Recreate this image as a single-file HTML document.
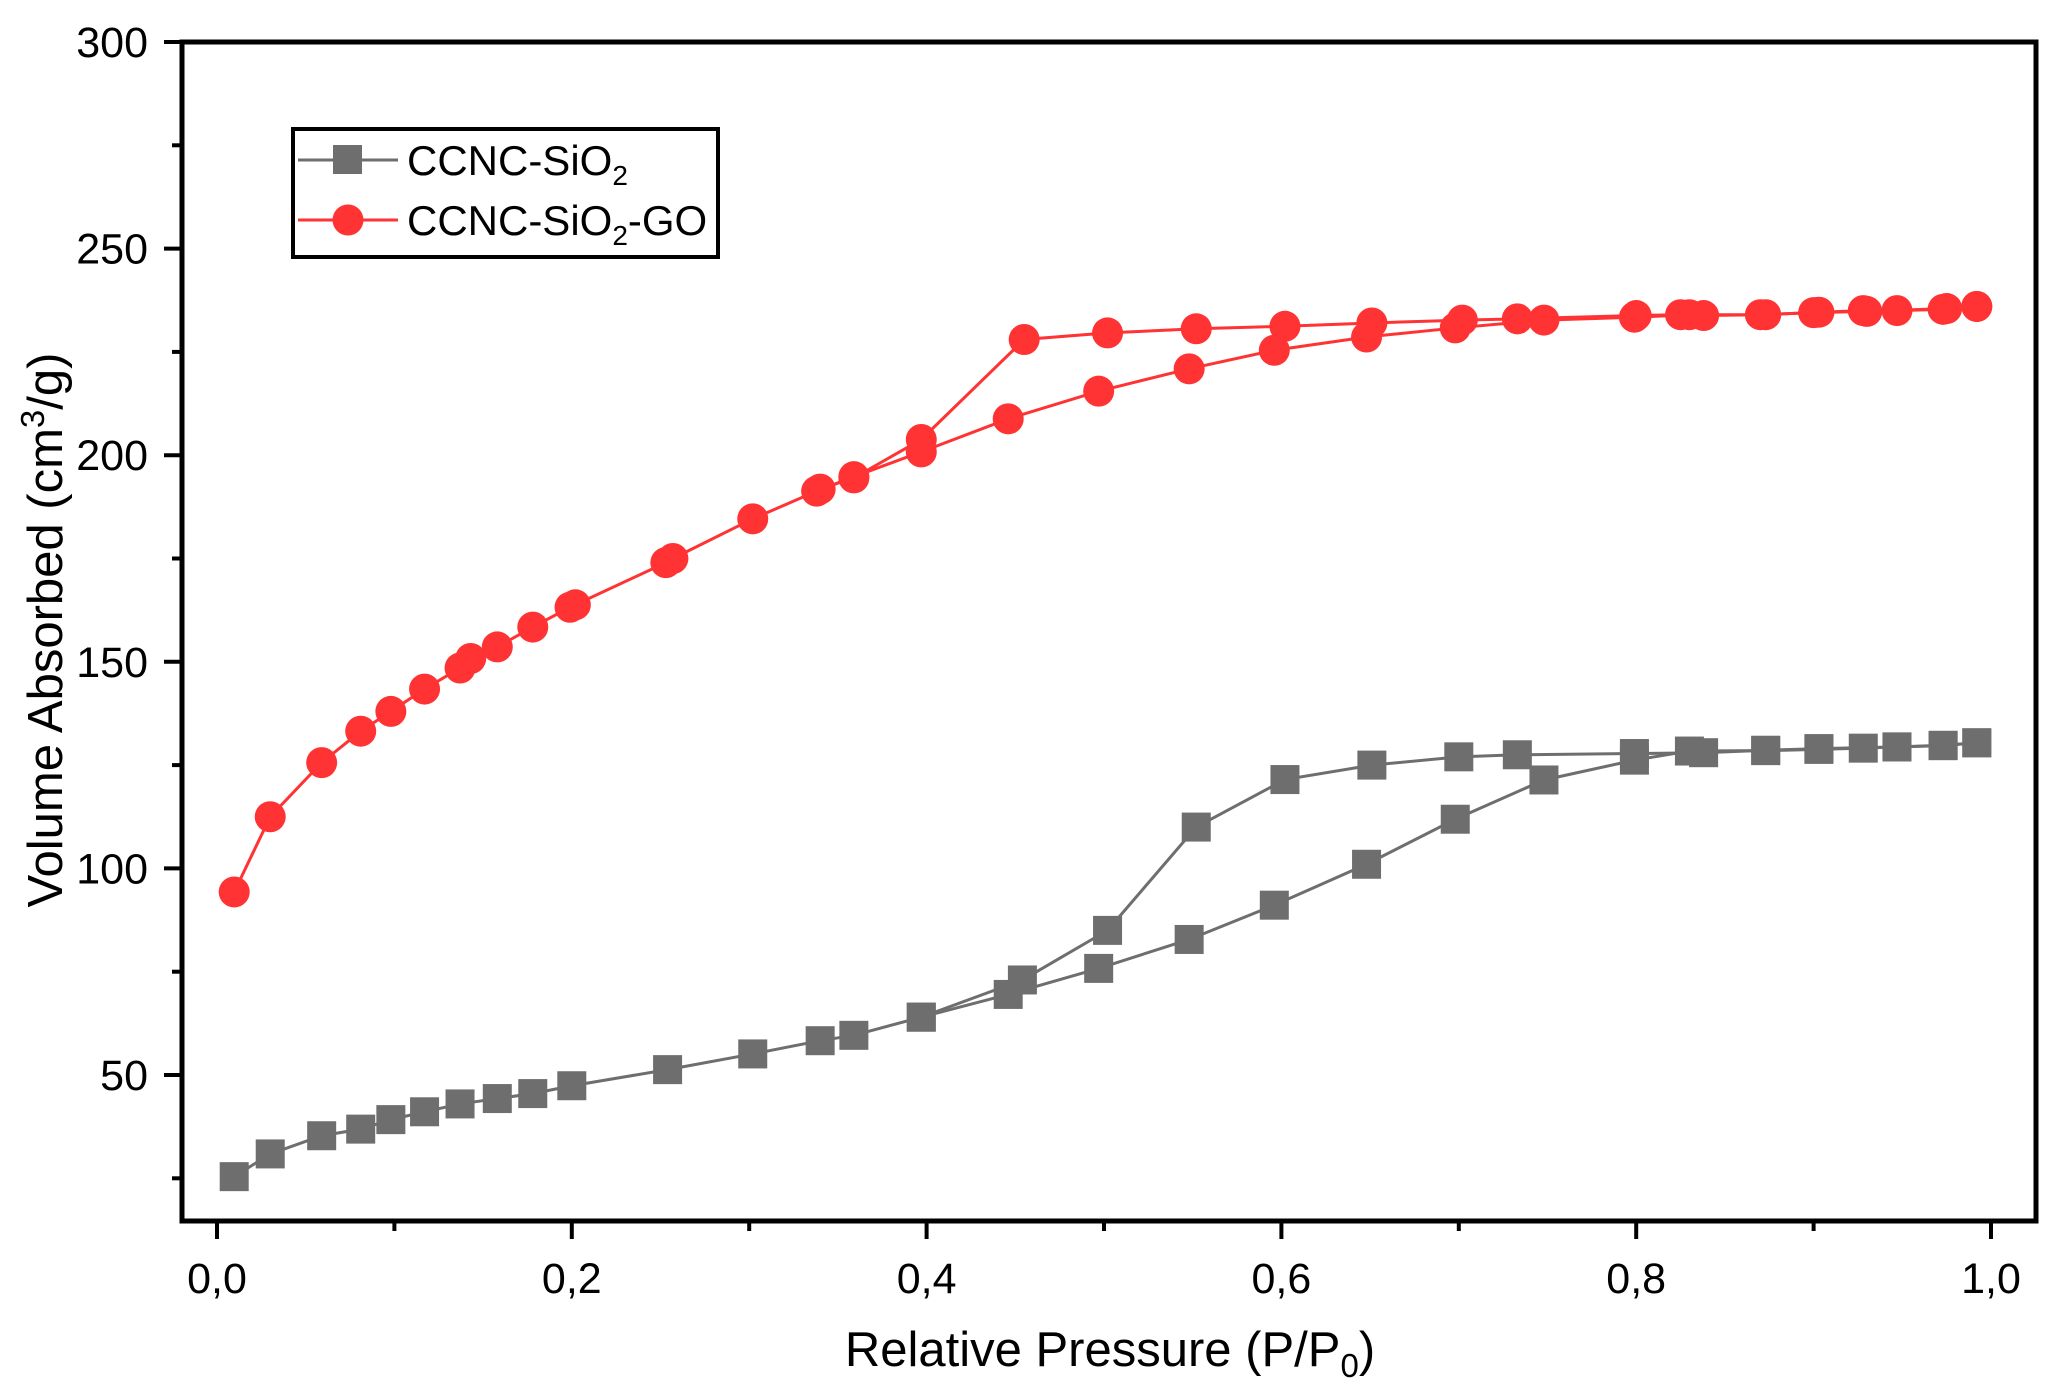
<!DOCTYPE html>
<html><head><meta charset="utf-8"><style>
html,body{margin:0;padding:0;background:#fff;}
svg{display:block;font-family:"Liberation Sans",Arial,sans-serif;}
</style></head><body>
<svg id="chart" width="2066" height="1397" viewBox="0 0 2066 1397"></svg>
<script>
const xTicks=[0,0.2,0.4,0.6,0.8,1.0];
const xTickLabels=["0,0","0,2","0,4","0,6","0,8","1,0"];
const yTicks=[50,100,150,200,250,300];
const yTickLabels=["50","100","150","200","250","300"];
const grayAdsP=[.0097,.030,.059,.081,.098,.117,.137,.158,.178,.2,.254,.302,.340,.359,.397,.446,.497,.548,.596,.648,.698,.748,.799,.830,.873,.903,.928,.947,.973,.992];
const grayAdsV=[25.4,30.9,35.3,36.9,39.2,41.1,43,44.3,45.5,47.4,51.3,55.1,58.3,59.6,64,69.5,75.8,82.8,91.1,101,111.9,121.4,126.2,128.4,128.5,128.8,129.1,129.4,129.7,130.4];
const grayDesP=[.992,.973,.947,.903,.873,.838,.799,.733,.700,.651,.602,.552,.502,.454,.397];
const grayDesV=[130.4,129.8,129.4,129,128.6,128,127.8,127.5,127,125,121.5,110,85,73,64];
const redAdsP=[.0097,.030,.059,.081,.098,.117,.137,.143,.158,.178,.199,.202,.253,.257,.302,.338,.359,.397,.446,.497,.548,.596,.648,.698,.748,.799,.830,.873,.903,.928,.947,.973,.992];
const redAdsV=[94.3,112.5,125.6,133.2,138,143.4,148.5,150.8,153.6,158.4,163.2,163.8,174,175,184.6,191.3,194.8,200.8,208.8,215.5,220.9,225.4,228.6,230.8,232.7,233.4,234,234,234.6,235,235,235.3,236];
const redDesP=[.992,.975,.930,.900,.870,.838,.825,.800,.733,.702,.651,.602,.552,.502,.455,.397,.359,.340];
const redDesV=[236,235.5,234.8,234.5,234,233.8,234,233.8,233,232.7,232,231.2,230.6,229.6,228,203.8,194.5,191.8];

const NS="http://www.w3.org/2000/svg";
const svg=document.getElementById('chart');
const L=182,R=2036,T=42,B=1221;
const X=p=>217+p*1774;
const Y=v=>42+(300-v)*4.132;
function mk(tag,attrs,parent){const e=document.createElementNS(NS,tag);for(const k in attrs)e.setAttribute(k,attrs[k]);(parent||svg).appendChild(e);return e;}

const frame=mk('rect',{x:L,y:T,width:R-L,height:B-T,fill:'none',stroke:'#000','stroke-width':5});



xTicks.forEach((t,i)=>{
  const tk=mk('line',{x1:X(t),x2:X(t),y1:B,y2:B+18,stroke:'#000','stroke-width':4});
  
  
  const tx=mk('text',{x:X(t),y:B+72,'text-anchor':'middle','font-size':43});
  tx.textContent=xTickLabels[i];
  
  
  if(i<xTicks.length-1){
    const m=mk('line',{x1:X(t+0.1),x2:X(t+0.1),y1:B,y2:B+10,stroke:'#000','stroke-width':4});
    
    
  }
});
yTicks.forEach((t,i)=>{
  const tk=mk('line',{x1:L-18,x2:L,y1:Y(t),y2:Y(t),stroke:'#000','stroke-width':4});
  
  
  const tx=mk('text',{x:L-34,y:Y(t)+15,'text-anchor':'end','font-size':43});
  tx.textContent=yTickLabels[i];
  
  
  const m=mk('line',{x1:L-10,x2:L,y1:Y(t-25),y2:Y(t-25),stroke:'#000','stroke-width':4});
  
  
});
const xt=mk('text',{x:1110,y:1366,'text-anchor':'middle','font-size':49});
xt.innerHTML='Relative Pressure (P/P<tspan font-size="33" dy="11">0</tspan><tspan dy="-11">)</tspan>';


const yt=mk('text',{x:0,y:0,'text-anchor':'middle','font-size':49,transform:'translate(62,630) rotate(-90)'});
yt.innerHTML='Volume Absorbed (cm<tspan font-size="33" dy="-18">3</tspan><tspan dy="18">/g)</tspan>';



function series(P,V,color,shape,name){
  const g=mk('g',{});
  
  
  const pts=P.map((p,i)=>X(p)+','+Y(V[i])).join(' ');
  const ln=mk('polyline',{points:pts,fill:'none',stroke:color,'stroke-width':3},g);
  
  
  P.forEach((p,i)=>{
    let m;
    if(shape==='sq') m=mk('rect',{x:X(p)-14.5,y:Y(V[i])-14.5,width:29,height:29,fill:color},g);
    else m=mk('circle',{cx:X(p),cy:Y(V[i]),r:15.5,fill:color},g);
    
    
  });
}
series(grayAdsP,grayAdsV,'#6e6e6e','sq','ccnc-sio2-adsorption');
series(grayDesP,grayDesV,'#6e6e6e','sq','ccnc-sio2-desorption');
series(redAdsP,redAdsV,'#ff3333','c','ccnc-sio2-go-adsorption');
series(redDesP,redDesV,'#ff3333','c','ccnc-sio2-go-desorption');

const lg=mk('g',{});


mk('rect',{x:293,y:129,width:425,height:128,fill:'#fff',stroke:'#000','stroke-width':4},lg);
mk('line',{x1:298,x2:398,y1:160,y2:160,stroke:'#6e6e6e','stroke-width':3},lg);
mk('rect',{x:333,y:145,width:29,height:29,fill:'#6e6e6e'},lg);
mk('line',{x1:298,x2:398,y1:220,y2:220,stroke:'#ff3333','stroke-width':3},lg);
mk('circle',{cx:348,cy:220,r:15.5,fill:'#ff3333'},lg);
const l1=mk('text',{x:407,y:175,'font-size':42},lg);
l1.innerHTML='CCNC-SiO<tspan font-size="28" dy="10">2</tspan>';


const l2=mk('text',{x:407,y:235,'font-size':42},lg);
l2.innerHTML='CCNC-SiO<tspan font-size="28" dy="10">2</tspan><tspan dy="-10">-GO</tspan>';


</script>
</body></html>
